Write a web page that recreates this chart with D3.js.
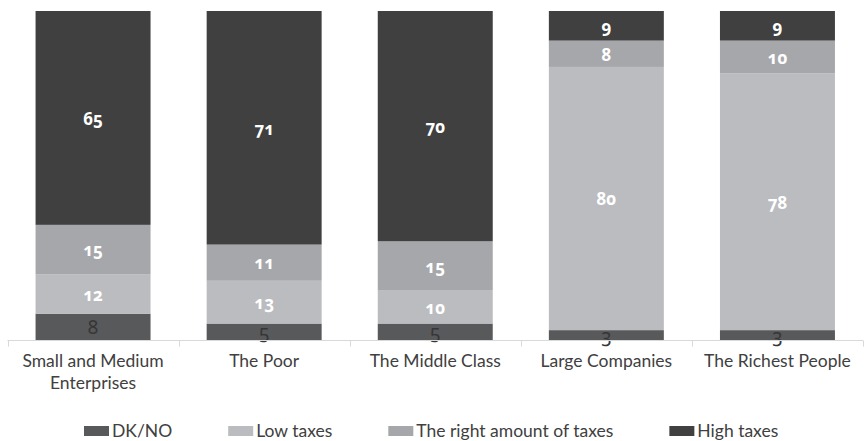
<!DOCTYPE html>
<html>
<head>
<meta charset="utf-8">
<script src="https://cdn.jsdelivr.net/npm/d3@7/dist/d3.min.js"></script>
<style>
  html, body { margin: 0; padding: 0; background: #ffffff; }
  svg { display: block; }
  .num { font-family: "Noto Sans", Lato, sans-serif; font-variant-numeric: oldstyle-nums; font-feature-settings: "onum" 1; }
  .txt { font-family: Lato, "Noto Sans", sans-serif; }
</style>
</head>
<body>
<svg id="chart" width="865" height="441"></svg>
<script>
// Opinion shares (%) by social group, stacked bottom to top
const categories = [
  ["Small and Medium", "Enterprises"],
  ["The Poor"],
  ["The Middle Class"],
  ["Large Companies"],
  ["The Richest People"]
];
const seriesNames = ["DK/NO", "Low taxes", "The right amount of taxes", "High taxes"];
const dkNo        = [8, 5, 5, 3, 3];
const lowTaxes    = [12, 13, 10, 80, 78];
const rightAmount = [15, 11, 15, 8, 10];
const highTaxes   = [65, 71, 70, 9, 9];
const yTicks = [0, 100];

const colors = ["#58595b", "#bbbcbf", "#a6a7aa", "#404040"];
const labelFill = ["#363636", "#ffffff", "#ffffff", "#ffffff"];

const svg = d3.select("#chart");
const keys = categories.map(c => c.join(" "));
const rows = keys.map((k, i) => ({
  key: k,
  "DK/NO": dkNo[i],
  "Low taxes": lowTaxes[i],
  "The right amount of taxes": rightAmount[i],
  "High taxes": highTaxes[i]
}));

const x = d3.scaleBand().domain(keys).range([7.5, 863]).paddingInner(0.328).paddingOuter(0.164);
const y = d3.scaleLinear().domain(d3.extent(yTicks)).range([340, 11]);

const stack = d3.stack().keys(seriesNames)(rows);

const layers = svg.append("g").selectAll("g").data(stack).join("g")
  .attr("fill", (d, i) => colors[i]);

layers.selectAll("rect").data(d => d).join("rect")
  .attr("x", d => x(d.data.key))
  .attr("width", x.bandwidth())
  .attr("y", d => y(d[1]))
  .attr("height", d => y(d[0]) - y(d[1]));

// Category axis with ticks on the band boundaries
const axisG = svg.append("g").attr("transform", `translate(0,${y(0) + 0.5})`);
axisG.append("line")
  .attr("x1", x.range()[0]).attr("x2", x.range()[1])
  .attr("stroke", "#d9d9d9").attr("stroke-width", 1);
const bounds = keys.map(k => x(k) - x.step() * x.paddingInner() / 2).concat([x.range()[1]]);
bounds[0] = x.range()[0];
axisG.selectAll("line.tick").data(bounds).join("line")
  .attr("class", "tick")
  .attr("x1", d => Math.round(d) + 0.5).attr("x2", d => Math.round(d) + 0.5)
  .attr("y1", 0).attr("y2", 6)
  .attr("stroke", "#d9d9d9");

const catText = axisG.selectAll("text").data(categories).join("text")
  .attr("class", "txt")
  .attr("x", (d, i) => x(keys[i]) + x.bandwidth() / 2)
  .attr("y", 26)
  .attr("text-anchor", "middle")
  .attr("font-size", 17.5)
  .attr("fill", "#404040");
catText.selectAll("tspan").data(d => d).join("tspan")
  .attr("x", function () { return this.parentNode.getAttribute("x"); })
  .attr("dy", (d, i) => i === 0 ? 0 : 22)
  .text(d => d);

// Value labels centred in each segment
layers.each(function (layer, li) {
  d3.select(this).selectAll("text").data(layer).join("text")
    .attr("class", "num")
    .attr("x", d => x(d.data.key) + x.bandwidth() / 2)
    .attr("y", d => (y(d[0]) + y(d[1])) / 2)
    .attr("dy", "0.4em")
    .attr("text-anchor", "middle")
    .attr("font-size", li === 0 ? 19 : 17)
    .attr("font-weight", li === 0 ? "normal" : "bold")
    .attr("fill", labelFill[li])
    .text(d => d[1] - d[0]);
});

// Legend, laid out left to right
const legend = svg.append("g").attr("transform", "translate(84,426)");
let lx = 0;
seriesNames.forEach((name, i) => {
  const g = legend.append("g").attr("transform", `translate(${lx},0)`);
  g.append("rect").attr("width", 25).attr("height", 10).attr("fill", colors[i]);
  const t = g.append("text").attr("class", "txt")
    .attr("x", 28).attr("y", 5).attr("dy", "0.36em")
    .attr("font-size", 17.5).attr("fill", "#404040").text(name);
  lx += 28 + t.node().getComputedTextLength() + 56;
});
</script>
</body>
</html>
